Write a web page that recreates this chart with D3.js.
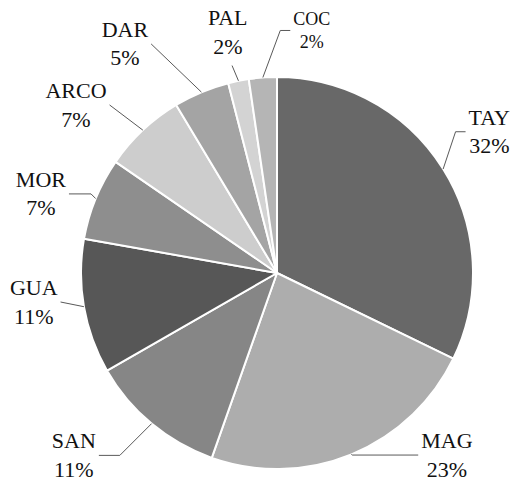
<!DOCTYPE html>
<html>
<head>
<meta charset="utf-8">
<script src="https://cdn.jsdelivr.net/npm/d3@7"></script>
<style>
  body { margin: 0; background: #fff; }
</style>
</head>
<body>
<div id="chart"></div>
<script>
// Shares per site (percent)
const categories = ["TAY", "MAG", "SAN", "GUA", "MOR", "ARCO", "DAR", "PAL", "COC"];
const values = [32.2, 23.2, 11.3, 11.1, 6.8, 6.8, 4.6, 1.7, 2.3];
const colors = ["#686868", "#adadad", "#868686", "#575757", "#8e8e8e", "#cdcdcd", "#a4a4a4", "#d3d3d3", "#b5b5b5"];

// label placement: angle shift (deg) from slice middle, distance from centre, font size
const labelShift = [-1.6, -20.7, 8.3, 3.1, -3.8, -6.9, -10.9, -0.2, 12.3];
const labelRadius = [255, 249, 273, 245, 249, 262, 275, 246, 245];
const labelSize = [22, 22, 22, 22, 22, 22, 22, 22, 18];

const width = 516, height = 483;
const cx = 277, cy = 273, radius = 196;
const font = "'Liberation Serif', 'Times New Roman', serif";

const data = categories.map((c, i) => ({ category: c, value: values[i], i: i }));
const total = d3.sum(values);
const pct = d => Math.round(d.data.value / total * 100) + "%";

const svg = d3.select("#chart").append("svg")
    .attr("width", width)
    .attr("height", height);

const g = svg.append("g").attr("transform", `translate(${cx},${cy})`);

const pie = d3.pie().sort(null).value(d => d.value);
const arc = d3.arc().innerRadius(0).outerRadius(radius);
const arcs = pie(data);

// slices
g.selectAll(".slice")
    .data(arcs)
    .enter()
    .append("path")
    .attr("class", "slice")
    .attr("d", arc)
    .attr("fill", d => colors[d.data.i])
    .attr("stroke", "#fff")
    .attr("stroke-width", 2)
    .attr("stroke-linejoin", "round");

// polar helper (angle clockwise from top)
const polar = (a, r) => [r * Math.sin(a), -r * Math.cos(a)];

const labels = g.selectAll(".lbl")
    .data(arcs)
    .enter()
    .append("g")
    .attr("class", "lbl");

labels.each(function (d) {
    const i = d.data.i;
    const size = labelSize[i];
    const mid = (d.startAngle + d.endAngle) / 2;
    const [lx, ly] = polar(mid + labelShift[i] * Math.PI / 180, labelRadius[i]);
    const b1 = ly - 0.32 * size;
    const gap = 1.3 * size;

    const t = d3.select(this).append("text")
        .attr("text-anchor", "middle")
        .attr("font-family", font)
        .attr("font-size", size)
        .attr("fill", "#111");
    const t1 = t.append("tspan").attr("x", lx).attr("y", b1).text(d.data.category);
    const t2 = t.append("tspan").attr("x", lx).attr("y", b1 + gap).text(pct(d));

    const w = Math.max(t1.node().getComputedTextLength(), t2.node().getComputedTextLength());
    const left = lx - w / 2, right = lx + w / 2;
    const top = b1 - 0.66 * size, bottom = b1 + gap;

    // leader line from slice edge to label
    const p0 = polar(mid, radius);
    let end, pts;
    if (p0[0] < left || p0[0] > right) {
        const sx = p0[0] < left ? 1 : -1;
        end = [p0[0] < left ? left - 3 : right + 3, ly];
        const dx = Math.abs(end[0] - p0[0]), dy = Math.abs(end[1] - p0[1]);
        let h = dy > dx ? 10 : (dx - dy > 20 ? dx - dy : 0);
        pts = h > 0 ? [p0, [end[0] - sx * h, end[1]], end] : [p0, end];
    } else {
        end = [lx + 0.4 * (p0[0] - lx), p0[1] > ly ? bottom + 12 : top - 12];
        pts = [p0, end];
    }
    d3.select(this).insert("path", "text")
        .attr("d", d3.line()(pts))
        .attr("fill", "none")
        .attr("stroke", "#595959")
        .attr("stroke-width", 1);
});
</script>
</body>
</html>
